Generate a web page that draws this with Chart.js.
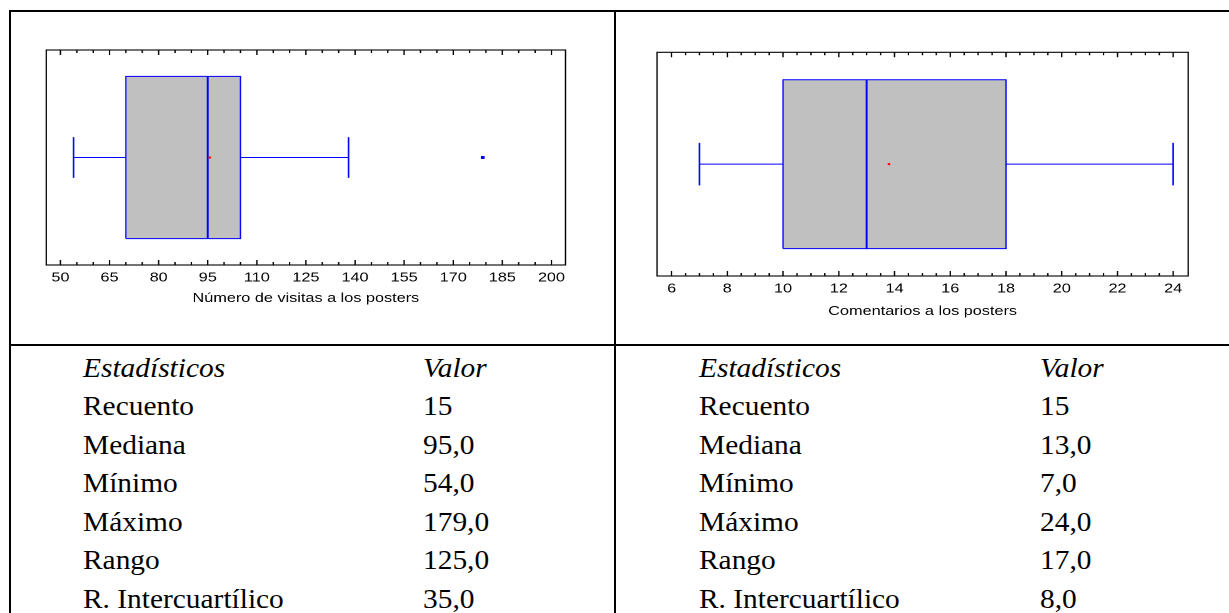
<!DOCTYPE html>
<html><head><meta charset="utf-8">
<script src="https://cdn.jsdelivr.net/npm/chart.js@4.4.1/dist/chart.umd.min.js"></script>
<style>
html,body{margin:0;padding:0;background:#fff;}
body{width:1229px;height:613px;position:relative;overflow:hidden;}
.rule{position:absolute;background:#000;}
.wrap{position:absolute;transform-origin:0 0;}
.cell{position:absolute;font-family:"Liberation Serif","Times New Roman",serif;font-size:28px;line-height:28px;white-space:nowrap;color:#000;transform:scaleX(1.05);transform-origin:0 0;}
.cell.it{font-style:italic;}
</style></head><body>
<div class="rule" style="left:9px;top:10px;width:1220px;height:2px"></div>
<div class="rule" style="left:9px;top:10px;width:2px;height:603px"></div>
<div class="rule" style="left:614px;top:10px;width:2px;height:603px"></div>
<div class="rule" style="left:9px;top:344px;width:1220px;height:2px"></div>
<div class="wrap" id="w1" style="left:12px;top:12px;"><canvas id="c1"></canvas></div>
<div class="wrap" id="w2" style="left:616px;top:12px;"><canvas id="c2"></canvas></div>
<div id="table"></div>
<script>
// ---------- data ----------
const VISITS_TITLE = 'Número de visitas a los posters';
const VISITS_BOX = [54, 70, 95, 105, 138];      // low whisker, Q1, median, Q3, high whisker
const VISITS_MEAN = [95.6];
const VISITS_OUTLIERS = [179];
const VISITS_TICKS = [50, 65, 80, 95, 110, 125, 140, 155, 170, 185, 200];
const VISITS_MINOR_STEP = 5;
const VISITS_RANGE = [45.67, 204.3];

const COMMENTS_TITLE = 'Comentarios a los posters';
const COMMENTS_BOX = [7, 10, 13, 18, 24];
const COMMENTS_MEAN = [13.8];
const COMMENTS_OUTLIERS = [];
const COMMENTS_TICKS = [6, 8, 10, 12, 14, 16, 18, 20, 22, 24];
const COMMENTS_MINOR_STEP = 0.5;
const COMMENTS_RANGE = [5.477, 24.54];

const STAT_HEADER = ['Estadísticos', 'Valor'];
const STAT_NAMES = ['Recuento', 'Mediana', 'Mínimo', 'Máximo', 'Rango', 'R. Intercuartílico'];
const VISITS_STATS = ['15', '95,0', '54,0', '179,0', '125,0', '35,0'];
const COMMENTS_STATS = ['15', '13,0', '7,0', '24,0', '17,0', '8,0'];

// ---------- layout / style ----------
const STRETCH = 1.25;
const BOX_HALF = 0.755, CAP_HALF = 0.19;
const BLUE = '#0000ff', GREY = '#c0c0c0';
const FONT = {family: '"Liberation Sans", Arial, sans-serif', size: 13};

const frameTicks = {
  id: 'frameTicks',
  afterDraw(chart, args, opts) {
    const {ctx, chartArea: a} = chart;
    const x = chart.scales.x;
    ctx.save();
    ctx.strokeStyle = '#000';
    ctx.lineWidth = 1.1;
    ctx.strokeRect(a.left, a.top, a.right - a.left, a.bottom - a.top);
    ctx.beginPath();
    x.ticks.forEach(t => {
      const px = x.getPixelForValue(t.value);
      const len = opts.major.some(m => Math.abs(m - t.value) < 1e-6) ? 5 : 3;
      ctx.moveTo(px, a.top); ctx.lineTo(px, a.top + len);
      ctx.moveTo(px, a.bottom); ctx.lineTo(px, a.bottom - len);
    });
    ctx.stroke();
    ctx.restore();
  }
};

function seg(pts, extra) {
  return Object.assign({data: pts, borderColor: BLUE, borderWidth: 1, pointRadius: 0, fill: false, tension: 0}, extra || {});
}

function makeBoxPlot(id, wrapId, cfg) {
  const [lo, q1, med, q3, hi] = cfg.box;
  const w = Math.round(cfg.pageWidth / STRETCH);
  const h = cfg.pageHeight;
  const cv = document.getElementById(id);
  cv.width = w; cv.height = h;
  cv.style.width = w + 'px'; cv.style.height = h + 'px';
  document.getElementById(wrapId).style.transform = 'scaleX(' + STRETCH + ')';
  const datasets = [
    {data: cfg.mean.map(v => ({x: v, y: 0})), showLine: false, pointRadius: 1.4, pointStyle: 'rect',
     pointBackgroundColor: '#ff0000', pointBorderWidth: 0, borderColor: '#ff0000'},
    {data: cfg.outliers.map(v => ({x: v, y: 0})), showLine: false, pointRadius: 2.2, pointStyle: 'rect',
     pointBackgroundColor: BLUE, pointBorderWidth: 0, borderColor: BLUE},
    seg([{x: med, y: -BOX_HALF}, {x: med, y: BOX_HALF}], {borderWidth: 1.5}),
    seg([{x: q1, y: -BOX_HALF}, {x: q3, y: -BOX_HALF}, {x: q3, y: BOX_HALF}, {x: q1, y: BOX_HALF}, {x: q1, y: -BOX_HALF}]),
    seg([{x: lo, y: 0}, {x: q1, y: 0}]),
    seg([{x: q3, y: 0}, {x: hi, y: 0}]),
    seg([{x: lo, y: -CAP_HALF}, {x: lo, y: CAP_HALF}], {borderWidth: 1.3}),
    seg([{x: hi, y: -CAP_HALF}, {x: hi, y: CAP_HALF}], {borderWidth: 1.3}),
    seg([{x: q1, y: BOX_HALF}, {x: q3, y: BOX_HALF}], {borderWidth: 0}),
    seg([{x: q1, y: -BOX_HALF}, {x: q3, y: -BOX_HALF}], {borderWidth: 0, fill: '-1', backgroundColor: GREY})
  ];
  const majors = cfg.ticks;
  new Chart(cv, {
    type: 'line',
    data: {datasets},
    options: {
      responsive: false, animation: false, events: [], devicePixelRatio: 2,
      layout: {padding: cfg.padding},
      plugins: {legend: {display: false}, tooltip: {enabled: false}, frameTicks: {major: majors}},
      scales: {
        x: {
          type: 'linear', position: 'bottom', min: cfg.range[0], max: cfg.range[1],
          afterBuildTicks: s => {
            const t = [];
            const first = majors[0], last = majors[majors.length - 1];
            for (let v = first; v <= last + 1e-9; v += cfg.minorStep) t.push({value: Math.round(v * 1000) / 1000});
            s.ticks = t;
          },
          afterFit: s => { s.height = cfg.axisHeight; },
          grid: {display: false, drawTicks: false},
          border: {display: false},
          ticks: {autoSkip: false, maxRotation: 0, minRotation: 0, padding: 5, color: '#000', font: FONT,
                  callback: v => majors.some(m => Math.abs(m - v) < 1e-6) ? String(v) : ''},
          title: {display: true, text: cfg.title, color: '#000', font: FONT, padding: 0}
        },
        y: {type: 'linear', display: false, min: -1, max: 1}
      }
    },
    plugins: [frameTicks]
  });
}

makeBoxPlot('c1', 'w1', {
  box: VISITS_BOX, mean: VISITS_MEAN, outliers: VISITS_OUTLIERS, ticks: VISITS_TICKS,
  minorStep: VISITS_MINOR_STEP, range: VISITS_RANGE, title: VISITS_TITLE,
  pageWidth: 598, pageHeight: 330, axisHeight: 41,
  padding: {left: 27.4, right: 35.2, top: 38, bottom: 36}
});
makeBoxPlot('c2', 'w2', {
  box: COMMENTS_BOX, mean: COMMENTS_MEAN, outliers: COMMENTS_OUTLIERS, ticks: COMMENTS_TICKS,
  minorStep: COMMENTS_MINOR_STEP, range: COMMENTS_RANGE, title: COMMENTS_TITLE,
  pageWidth: 613, pageHeight: 330, axisHeight: 43,
  padding: {left: 32.8, right: 32.2, top: 40.3, bottom: 23}
});

// ---------- statistics table ----------
(function () {
  const tb = document.getElementById('table');
  const FS = 28, BASE0 = 377.3, STEP = 38.5;
  const cols = [[82.7, 423, VISITS_STATS], [699.3, 1039.5, COMMENTS_STATS]];
  function put(txt, x, row, italic) {
    const d = document.createElement('div');
    d.className = 'cell' + (italic ? ' it' : '');
    d.textContent = txt;
    d.style.left = x + 'px';
    d.style.top = (BASE0 + row * STEP - 0.8375 * FS) + 'px';
    tb.appendChild(d);
  }
  cols.forEach(([xn, xv, vals]) => {
    put(STAT_HEADER[0], xn, 0, true);
    put(STAT_HEADER[1], xv, 0, true);
    STAT_NAMES.forEach((n, i) => { put(n, xn, i + 1, false); put(vals[i], xv, i + 1, false); });
  });
})();
</script>
</body></html>
